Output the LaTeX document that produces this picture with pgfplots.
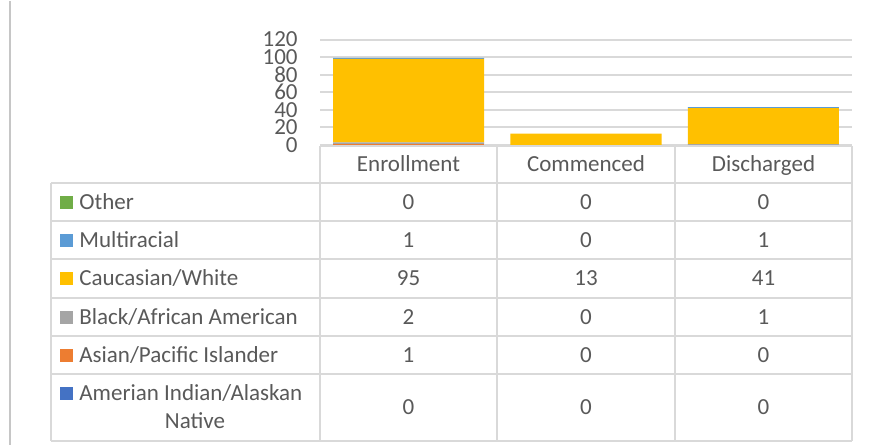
\documentclass[border=0pt]{standalone}
\usepackage{fontspec}
\setmainfont{Carlito}
\usepackage{pgfplots}
\pgfplotsset{compat=1.18}
\definecolor{txt}{RGB}{89,89,89}
\definecolor{gridc}{RGB}{217,217,217}
\definecolor{cAmer}{RGB}{68,114,196}
\definecolor{cAsian}{RGB}{237,125,49}
\definecolor{cBlack}{RGB}{165,165,165}
\definecolor{cWhite}{RGB}{255,192,0}
\definecolor{cMulti}{RGB}{91,155,213}
\definecolor{cOther}{RGB}{112,173,71}
\newcommand{\tfont}{\fontsize{11.5}{13}\selectfont}

\begin{document}
\begin{tikzpicture}[x=0.5pt,y=-0.5pt]
\path (0,0) rectangle (869,444);
\draw[gray!45, line width=1pt] (10,0) -- (10,444);

\begin{axis}[
  at={(160pt,-72pt)}, anchor=south west,
  scale only axis, width=266pt, height=52.75pt,
  xmin=0, xmax=3, ymin=0, ymax=120,
  ytick={0,20,...,120}, xtick=\empty,
  ymajorgrids, grid style={gridc, line width=1pt},
  axis line style={draw=none}, major tick length=0pt,
  ybar stacked, bar width=75.5pt,
  yticklabel style={font=\fontsize{11.5}{11.5}\selectfont, text=txt, inner sep=0pt, xshift=-11pt},
  /pgf/number format/assume math mode=true,
  clip=false,
]
% Amerian Indian/Alaskan Native
\addplot[fill=cAmer, draw=none] coordinates {(0.5,0) (1.5,0) (2.5,0)};
% Asian/Pacific Islander
\addplot[fill=cAsian, draw=none] coordinates {(0.5,1) (1.5,0) (2.5,0)};
% Black/African American
\addplot[fill=cBlack, draw=none] coordinates {(0.5,2) (1.5,0) (2.5,1)};
% Caucasian/White
\addplot[fill=cWhite, draw=none] coordinates {(0.5,95) (1.5,13) (2.5,41)};
% Multiracial
\addplot[fill=cMulti, draw=none] coordinates {(0.5,1) (1.5,0) (2.5,1)};
% Other
\addplot[fill=cOther, draw=none] coordinates {(0.5,0) (1.5,0) (2.5,0)};
\end{axis}

% data table
\begin{scope}[gridc, line width=1pt]
  \draw (320,145) -- (852,145);
  \foreach \y in {182,220,258,297,335,373,440} \draw (51,\y) -- (852,\y);
  \draw (51,182) -- (51,440);
  \foreach \x in {320,497,675,852} \draw (\x,145) -- (\x,440);
\end{scope}

% text is set on baselines: row centre + 7.4px
\begin{scope}[every node/.style={text=txt, font=\tfont, inner sep=0pt, anchor=base}]
  \node at (408.5,170.9) {Enrollment};
  \node at (586,170.9) {Commenced};
  \node at (763.5,170.9) {Discharged};

  \foreach \c/\lab/\y/\a/\b/\d in {
      cOther/Other/201/0/0/0,
      cMulti/Multiracial/239/1/0/1,
      cWhite/Caucasian\slash White/277.5/95/13/41,
      cBlack/Black\slash African American/316/2/0/1,
      cAsian/Asian\slash Pacific Islander/354.5/1/0/0} {
    \fill[\c] (60,\y-6.5) rectangle (73,\y+6.5);
    \node[anchor=base west] at (79,\y+7.4) {\lab};
    \node at (408.5,\y+7.4) {\a};
    \node at (586,\y+7.4) {\b};
    \node at (763.5,\y+7.4) {\d};
  }
  \fill[cAmer] (60,385.5) rectangle (73,398.5);
  \node[anchor=base west] at (79,399.4) {Amerian Indian/Alaskan};
  \node at (195,427.4) {Native};
  \node at (408.5,413.9) {0};
  \node at (586,413.9) {0};
  \node at (763.5,413.9) {0};
\end{scope}
\end{tikzpicture}
\end{document}
